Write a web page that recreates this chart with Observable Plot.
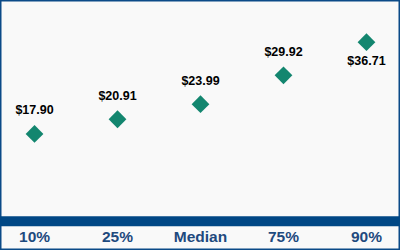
<!DOCTYPE html>
<html>
<head>
<meta charset="utf-8">
<script src="https://cdn.jsdelivr.net/npm/d3@7"></script>
<script src="https://cdn.jsdelivr.net/npm/@observablehq/plot@0.6"></script>
<style>
  html, body { margin: 0; padding: 0; background: #ffffff; }
  #chart { width: 400px; height: 250px; background: #f9f9f9; box-shadow: inset 0 0 0 1.5px #0b4a88; }
  #chart svg { display: block; background: transparent; }
</style>
</head>
<body>
<div id="chart"></div>
<script>
const categories = ["10%", "25%", "Median", "75%", "90%"];
const wages = [17.90, 20.91, 23.99, 29.92, 36.71];

const data = categories.map((c, i) => ({category: c, value: wages[i]}));
const above = data.slice(0, data.length - 1);
const below = data.slice(data.length - 1);
const fmt = d3.format("$.2f");

const chart = Plot.plot({
  width: 400,
  height: 250,
  marginTop: 1.3,
  marginBottom: 29.3,
  marginLeft: 0,
  marginRight: 0,
  style: {background: "transparent", fontFamily: "'Liberation Sans', Arial, sans-serif"},
  x: {type: "point", domain: categories, padding: 0.41, round: false, label: null},
  y: {domain: [0, 45], axis: null},
  marks: [
    Plot.ruleY([0], {stroke: "#004785", strokeWidth: 10}),
    Plot.axisX({tickSize: 0, tickPadding: 10, fontSize: 15.5, fontWeight: "bold", fill: "#1f4a7e", label: null}),
    Plot.dot(data, {x: "category", y: "value", symbol: "diamond2", r: 8, fill: "#13866f", stroke: "none"}),
    Plot.text(above, {x: "category", y: "value", text: d => fmt(d.value), dy: -23.5, fontSize: 12.5, fontWeight: "bold", fill: "#000"}),
    Plot.text(below, {x: "category", y: "value", text: d => fmt(d.value), dy: 19, fontSize: 12.5, fontWeight: "bold", fill: "#000"})
  ]
});
document.getElementById("chart").appendChild(chart);
</script>
</body>
</html>
